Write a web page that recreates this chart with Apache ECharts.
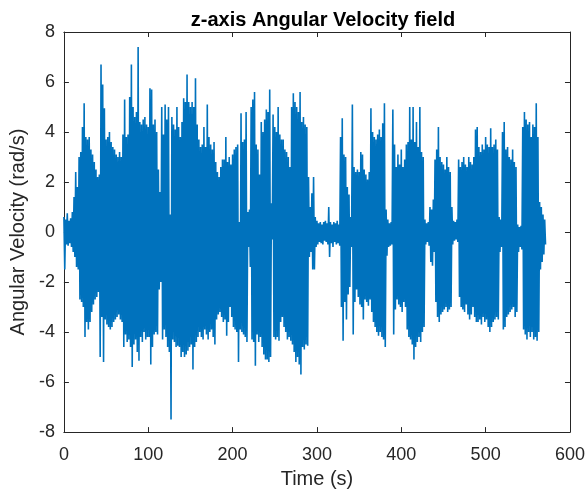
<!DOCTYPE html>
<html>
<head>
<meta charset="utf-8">
<script src="https://cdn.jsdelivr.net/npm/echarts@6/dist/echarts.min.js"></script>
<style>html,body{margin:0;padding:0;background:#fff;}#c{width:588px;height:494px;}</style>
</head>
<body>
<div id="c"></div>
<script>
// Sampling: one upper and one lower swing every 2 s, starting at t = 0 s
const sampleStep = 2;
// Upper swing (rad/s) per 2 s window
const upper = [
  0.6, 0.5, 0.75, 0.45, 0.55,   0.8, 1.4, 2.4, 1.8, 3.0,
  3.2, 4.2, 5.15, 3.8, 3.7,     3.8, 3.3, 3.1, 2.8, 2.5,
  2.2, 2.3, 6.7, 5.9, 4.95,     3.7, 3.8, 4.0, 3.6, 3.4,
  3.3, 3.1, 3.0, 3.2, 3.0,      3.9, 5.3, 3.8, 3.9, 5.4,
  6.7, 5.0, 4.6, 4.8, 7.4,      4.4, 4.3, 4.5, 4.6, 4.3,
  4.2, 5.75, 5.7, 4.3, 4.5,     4.0, 2.5, 1.6, 5.0, 3.9,
  5.1, 4.5, 5.0, 0.7, 4.6,      4.3, 4.1, 5.0, 4.2, 3.8,
  4.4, 5.35, 5.2, 6.3, 5.2,     5.0, 5.2, 5.0, 6.15, 4.3,
  3.7, 3.4, 3.5, 4.2, 3.4,      5.1, 3.8, 3.5, 3.3, 3.6,
  2.8, 2.4, 2.2, 2.6, 2.9,      2.9, 3.8, 2.8, 3.0, 2.7,
  3.1, 3.3, 3.4, 3.5, 0.4,      4.75, 3.6, 3.7, 4.8, 0.8,
  0.9, 5.0, 5.3, 5.6, 3.5,      3.3, 2.3, 4.4, 4.0, 4.5,
  4.9, 4.8, 5.7, 1.15, 4.7,     4.2, 4.0, 5.0, 3.9, 3.7,
  3.7, 3.3, 3.2, 3.0, 2.6,      5.0, 5.55, 5.2, 5.0, 4.8,
  5.6, 4.4, 4.6, 4.3, 4.2,      2.2, 1.0, 1.55, 2.2, 0.6,
  0.45, 0.35, 0.4, 0.3, 0.4,    0.45, 0.35, 1.0, 0.4, 0.3,
  0.4, 0.35, 0.45, 0.3, 3.8,    4.55, 3.1, 3.0, 1.8, 1.5,
  0.6, 5.1, 2.6, 2.4, 2.5,      2.4, 3.2, 3.1, 2.5, 2.3,
  2.1, 2.4, 4.95, 4.0, 3.8,     3.7, 3.9, 4.1, 3.8, 4.35,
  5.15, 0.9, 0.5, 0.35, 0.4,    4.9, 3.5, 2.6, 3.1, 2.7,
  3.3, 2.6, 2.9, 3.5, 3.6,      5.0, 3.7, 5.0, 3.6, 4.4,
  3.4, 5.0, 3.2, 3.0, 0.5,      0.35, 0.4, 1.0, 0.9, 1.3,
  2.9, 3.3, 4.2, 3.0, 2.8,      2.7, 2.5, 3.0, 2.6, 2.4,
  1.0, 0.45, 0.4, 0.5, 2.9,     2.6, 2.8, 3.0, 2.7, 2.6,
  3.0, 2.8, 2.7, 3.0, 4.1,      4.2, 3.4, 3.2, 3.5, 3.3,
  3.8, 3.5, 3.4, 4.15, 3.4,     3.5, 3.7, 3.3, 0.6, 0.5,
  4.0, 4.4, 3.3, 3.4, 3.0,      2.9, 3.3, 2.8, 2.6, 0.3,
  0.2, 0.25, 4.2, 4.8, 4.5,     4.3, 4.4, 3.8, 4.3, 4.2,
  5.15, 3.8, 1.2, 1.0, 0.7,     0.5
];
// Lower swing (rad/s) per 2 s window
const lower = [
  -1.5, -0.5, -0.55, -0.45, -0.6,   -0.8, -1.0, -1.4, -1.5, -2.7,
  -2.8, -3.0, -4.2, -3.6, -3.9,     -3.6, -3.2, -2.9, -2.7, -2.6,
  -2.4, -5.0, -3.4, -5.2, -3.5,     -3.7, -3.8, -3.9, -3.8, -3.6,
  -3.5, -3.4, -3.3, -3.5, -3.6,     -4.6, -4.1, -4.4, -4.3, -4.6,
  -5.4, -4.5, -4.3, -4.8, -5.15,    -4.2, -4.4, -4.0, -4.3, -4.2,
  -4.2, -5.3, -4.6, -4.1, -4.0,     -4.1, -2.3, -2.0, -4.3, -3.9,
  -4.2, -4.6, -4.8, -7.5, -4.3,     -4.4, -4.6, -4.55, -4.6, -5.0,
  -4.8, -5.0, -4.9, -4.75, -4.6,    -4.5, -5.5, -4.6, -4.4, -4.2,
  -4.0, -4.2, -4.3, -3.9, -4.1,     -4.3, -4.0, -3.9, -4.2, -4.5,
  -3.5, -3.3, -3.2, -3.4, -3.6,     -3.5, -4.15, -3.6, -3.0, -3.4,
  -3.8, -3.9, -4.0, -5.2, -3.9,     -4.0, -4.1, -4.2, -4.4, -0.6,
  -1.4, -4.3, -4.4, -5.35, -4.1,    -4.4, -4.2, -4.6, -4.9, -5.1,
  -5.1, -5.2, -5.0, -0.3, -4.2,     -4.3, -4.2, -4.35, -3.6, -3.4,
  -3.8, -4.0, -4.3, -4.2, -4.35,    -4.5, -4.8, -5.2, -5.0, -5.3,
  -5.7, -4.6, -4.7, -4.5, -4.55,    -1.0, -0.8, -1.5, -1.5, -0.6,
  -0.5, -0.4, -0.45, -0.5, -0.35,   -0.4, -0.5, -1.0, -0.45, -0.6,
  -0.4, -0.5, -0.45, -0.55, -3.0,   -4.35, -2.8, -3.5, -2.5, -2.2,
  -0.6, -4.1, -2.8, -2.3, -2.6,     -2.9, -3.0, -3.5, -2.7, -2.8,
  -2.95, -2.7, -3.2, -3.6, -3.8,    -4.0, -4.15, -4.0, -4.2, -4.3,
  -4.6, -0.95, -0.6, -0.55, -0.5,   -4.1, -3.1, -2.7, -2.9, -3.0,
  -3.2, -2.8, -3.0, -3.9, -4.2,     -4.3, -4.5, -5.1, -4.6, -4.4,
  -4.2, -4.4, -4.0, -3.8, -0.5,     -0.4, -0.55, -1.2, -1.35, -0.8,
  -2.8, -3.4, -3.6, -3.3, -3.2,     -3.1, -3.0, -3.2, -3.1, -3.0,
  -0.5, -0.35, -0.3, -0.4, -2.6,    -3.0, -3.1, -3.2, -2.9, -3.3,
  -3.5, -3.3, -3.0, -3.4, -3.6,     -3.6, -3.5, -3.7, -3.4, -3.6,
  -3.5, -3.8, -4.0, -3.8, -3.6,     -3.5, -3.4, -3.5, -0.8, -0.6,
  -3.9, -3.8, -3.4, -3.3, -3.2,     -3.1, -3.0, -3.4, -3.2, -0.8,
  -0.6, -0.7, -3.9, -4.1, -4.3,     -4.0, -4.2, -4.0, -4.3, -4.2,
  -4.35, -4.0, -1.5, -1.2, -0.9,    -0.5
];
const xTicks = [0, 100, 200, 300, 400, 500, 600];
const yTicks = [-8, -6, -4, -2, 0, 2, 4, 6, 8];

const signal = [];
for (let i = 0; i < upper.length; i++) {
  signal.push([i * sampleStep, upper[i]]);
  signal.push([i * sampleStep + sampleStep / 2, lower[i]]);
}

const axisColor = '#262626';
const font = 'Liberation Sans, Arial, Helvetica, sans-serif';
const chart = echarts.init(document.getElementById('c'), null, {renderer: 'canvas'});
const baseX = {
  type: 'value', min: xTicks[0], max: xTicks[xTicks.length - 1], interval: 100,
  axisLine: {show: true, onZero: false, lineStyle: {color: axisColor, width: 1}},
  axisTick: {show: true, inside: true, length: 5, lineStyle: {color: axisColor}},
  splitLine: {show: false}
};
const baseY = {
  type: 'value', min: yTicks[0], max: yTicks[yTicks.length - 1], interval: 2,
  axisLine: {show: true, onZero: false, lineStyle: {color: axisColor, width: 1}},
  axisTick: {show: true, inside: true, length: 5, lineStyle: {color: axisColor}},
  splitLine: {show: false}
};
chart.setOption({
  animation: false,
  backgroundColor: '#fff',
  title: {
    text: 'z-axis Angular Velocity field',
    left: 318, top: 5, textAlign: 'center',
    textStyle: {fontFamily: font, fontSize: 20, fontWeight: 'bold', color: '#000'}
  },
  grid: {left: 63, right: 14.5, top: 32, bottom: 61, containLabel: false},
  xAxis: [
    Object.assign({}, baseX, {
      position: 'bottom',
      name: 'Time (s)', nameLocation: 'middle', nameGap: 35,
      nameTextStyle: {fontFamily: font, fontSize: 20, color: axisColor},
      axisLabel: {show: true, margin: 14, fontFamily: font, fontSize: 18, color: axisColor}
    }),
    Object.assign({}, baseX, {position: 'top', axisLabel: {show: false}})
  ],
  yAxis: [
    Object.assign({}, baseY, {
      position: 'left',
      name: 'Angular Velocity (rad/s)', nameLocation: 'middle', nameGap: 33, nameRotate: 90,
      nameTextStyle: {fontFamily: font, fontSize: 20, color: axisColor},
      axisLabel: {show: true, margin: 9, fontFamily: font, fontSize: 18, color: axisColor}
    }),
    Object.assign({}, baseY, {position: 'right', axisLabel: {show: false}})
  ],
  series: [{
    type: 'line',
    data: signal,
    xAxisIndex: 0, yAxisIndex: 0,
    showSymbol: false,
    symbol: 'none',
    sampling: null,
    lineStyle: {color: '#0072BD', width: 1.6, join: 'miter', miterLimit: 1},
    itemStyle: {color: '#0072BD'},
    z: 1
  }]
});
</script>
</body>
</html>
